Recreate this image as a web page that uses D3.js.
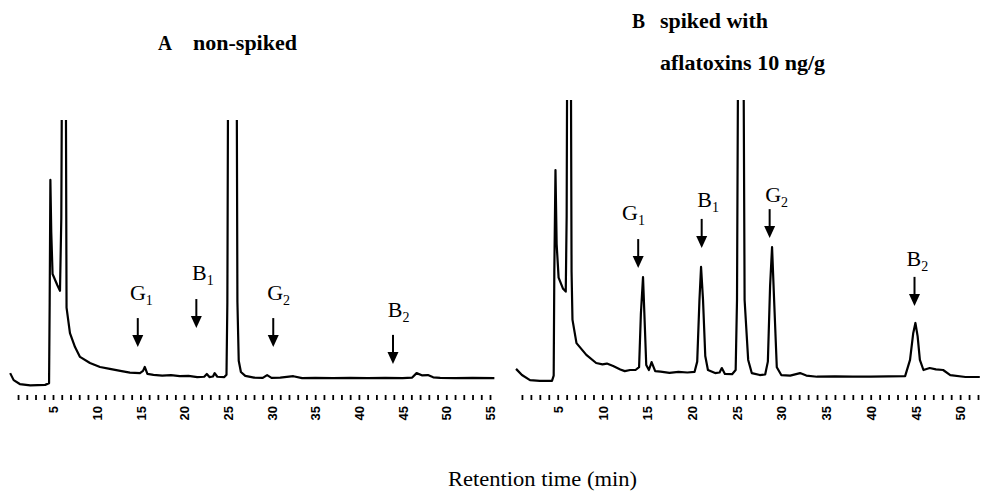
<!DOCTYPE html>
<html>
<head>
<meta charset="utf-8">
<script src="https://cdn.jsdelivr.net/npm/d3@7"></script>
<style>
  html, body { margin: 0; padding: 0; background: #fff; }
  svg { display: block; }
</style>
</head>
<body>
<svg id="chart" width="983" height="493"></svg>
<script>
// ---------------- DATA ----------------
// Panel A (non-spiked): retention time (min) and detector signal (arbitrary units)
const timeA = [0.1,0.5,1.2,2.4,4.1,4.55,4.62,4.7,4.8,4.95,5.5,5.8,5.95,6.05,6.45,6.55,6.94,7.52,8.09,9.23,10.38,11.5,12.7,13.8,14.95,15.3,15.5,15.8,16.5,17.5,18.5,19.5,20.5,21.5,22.3,22.6,22.9,23.3,23.5,23.8,24.6,24.85,24.95,25.05,26.0,26.1,26.25,26.5,27.0,28.0,29.0,29.5,30.0,31.0,32.5,33.5,35,37,39,41,43,45,46.1,46.6,47.2,47.9,48.5,49.3,51,53,55.5];
const signalA = [4.6,2.1,0.7,0.2,0.4,1.0,30,73.6,55,40,36,34,60,130,130,28,18.9,13.9,10.4,8.2,6.8,6.1,5.4,4.8,4.6,5.4,6.8,4.3,4.0,3.7,3.9,3.5,3.6,3.2,3.3,4.3,3.2,3.4,4.6,3.3,3.2,4,30,130,130,30,9,5,3.6,3.0,2.9,3.9,2.9,3.0,3.5,2.8,2.9,2.8,2.9,2.8,2.9,2.8,3.0,4.6,3.8,3.9,3.1,2.9,2.8,2.9,2.8];

// Panel B (spiked with aflatoxins 10 ng/g)
const timeB = [0.34,1.0,1.9,3.0,4.36,4.55,4.62,4.75,4.88,5.1,5.6,5.9,6.0,6.08,6.45,6.55,6.65,7.1,8.2,9.3,10.0,10.5,11.2,12.0,12.5,13.1,13.7,14.1,14.3,14.54,14.75,14.9,15.2,15.5,15.9,16.5,17.5,18.5,19.5,20.3,20.6,20.85,21.03,21.25,21.5,21.8,22.6,23.1,23.35,23.7,24.5,24.9,25.05,25.2,25.75,25.9,26.3,26.7,27.6,28.2,28.5,28.75,28.97,29.2,29.5,30.0,31,32.1,32.8,34,36,38,40,42,43.85,44.4,44.75,45.0,45.25,45.5,45.9,46.6,47.3,48.1,48.9,50.6,52.2];
const signalB = [5.4,3.2,1.4,1.1,1.1,3,40,76.4,50,38,34,33,60,140,140,40,23,14.6,10.4,7.5,7.0,7.3,6.4,5.2,4.6,5.0,5.0,6,25,38.2,20,6.8,5,7.8,4.6,4.4,4.0,4.3,4.1,4.3,8,30,41.8,30,10,5,3.9,4.1,5.7,3.6,3.5,5,30,140,140,30,8.6,3.9,3.2,3.4,8,35,48.9,30,6,3.2,3.0,3.9,3.0,2.6,2.7,2.6,2.6,2.7,2.8,8.6,18,21.8,17,8.6,5,5.7,5.2,5,3.2,2.5,2.5];

// Axis ticks (minutes)
const ticksA = d3.range(1, 56);
const ticksB = d3.range(1, 53);
const labelTicks = [5,10,15,20,25,30,35,40,45,50,55];

// Peak annotations
const peakNames = ["G", "B", "G", "B"];
const peakSubs = ["1", "1", "2", "2"];
const arrowTimeA = [14.7, 21.4, 30.2, 43.9];
const arrowTipA = [13.9, 20.7, 13.9, 7.9];
const labelTimeA = [13.8, 20.9, 29.5, 43.3];
const labelSignalA = [30.7, 37.9, 30.7, 24.6];
const arrowTimeB = [14.0, 21.1, 28.7, 44.9];
const arrowTipB = [41.4, 48.6, 52.1, 27.9];
const labelTimeB = [12.2, 20.6, 28.2, 44.0];
const labelSignalB = [58.6, 63.2, 65.0, 42.1];

// ---------------- DRAW ----------------
const svg = d3.select("#chart");
const serif = "'Liberation Serif', 'Times New Roman', serif";

function panel(cfg) {
  const x = d3.scaleLinear().domain(cfg.xDomain).range(cfg.xRange);
  const y = d3.scaleLinear().domain([0, 100]).range(cfg.yRange);
  const g = svg.append("g");
  const clipId = "clip" + cfg.id;
  svg.append("clipPath").attr("id", clipId)
    .append("rect")
    .attr("x", cfg.xRange[0] - 20).attr("y", cfg.clipTop)
    .attr("width", cfg.xRange[1] - cfg.xRange[0] + 40)
    .attr("height", 400 - cfg.clipTop);

  const pts = cfg.time.map((t, i) => [t, cfg.signal[i]]);
  g.append("path")
    .datum(pts)
    .attr("clip-path", `url(#${clipId})`)
    .attr("fill", "none")
    .attr("stroke", "#000")
    .attr("stroke-width", 2.2)
    .attr("stroke-linejoin", "round")
    .attr("d", d3.line().x(d => x(d[0])).y(d => y(d[1])));

  // axis
  const axis = d3.axisBottom(x)
    .tickValues(cfg.ticks)
    .tickSize(5)
    .tickFormat(d => labelTicks.includes(d) ? d : "");
  const ag = g.append("g").attr("transform", "translate(0,395)").call(axis);
  ag.select(".domain").remove();
  ag.selectAll(".tick line").attr("stroke", "#000").attr("stroke-width", 1.8);
  ag.selectAll(".tick text")
    .attr("transform", "rotate(-90)")
    .attr("text-anchor", "end")
    .attr("x", -11)
    .attr("y", 0)
    .attr("dy", "0.36em")
    .attr("font-family", "'Liberation Sans', Arial, sans-serif")
    .attr("font-weight", "bold")
    .attr("font-size", 13)
    .attr("fill", "#000");

  // annotations
  cfg.arrowTime.forEach((t, i) => {
    const ax = x(t);
    const tip = y(cfg.arrowTip[i]);
    const top = tip - 29;
    g.append("line")
      .attr("x1", ax).attr("x2", ax)
      .attr("y1", top).attr("y2", tip - 10)
      .attr("stroke", "#000").attr("stroke-width", 2);
    g.append("path")
      .attr("d", `M${ax - 5.5},${tip - 12} L${ax + 5.5},${tip - 12} L${ax},${tip} Z`)
      .attr("fill", "#000");
    const txt = g.append("text")
      .attr("x", x(cfg.labelTime[i]))
      .attr("y", y(cfg.labelSignal[i]))
      .attr("font-family", serif)
      .attr("font-size", 22)
      .attr("fill", "#000");
    txt.append("tspan").text(peakNames[i]);
    txt.append("tspan").attr("dy", 5).attr("font-size", 14).text(peakSubs[i]);
  });
}

panel({
  id: "A", time: timeA, signal: signalA,
  xDomain: [0, 55], xRange: [9.3, 490],
  yRange: [386, 106], clipTop: 120, ticks: ticksA,
  arrowTime: arrowTimeA, arrowTip: arrowTipA,
  labelTime: labelTimeA, labelSignal: labelSignalA
});
panel({
  id: "B", time: timeB, signal: signalB,
  xDomain: [0, 52], xRange: [513, 978],
  yRange: [384, 104], clipTop: 100, ticks: ticksB,
  arrowTime: arrowTimeB, arrowTip: arrowTipB,
  labelTime: labelTimeB, labelSignal: labelSignalB
});

// Titles
function title(xp, yp, str, len) {
  svg.append("text").attr("x", xp).attr("y", yp)
    .attr("font-family", serif).attr("font-weight", "bold")
    .attr("font-size", 20).attr("fill", "#000")
    .attr("textLength", len).attr("lengthAdjust", "spacingAndGlyphs")
    .text(str);
}
title(158, 50, "A", 14);
title(193, 50, "non-spiked", 104);
title(632, 28, "B", 13);
title(660, 28, "spiked with", 108);
title(660, 70, "aflatoxins 10 ng/g", 165);

svg.append("text")
  .attr("x", 448).attr("y", 486)
  .attr("font-family", serif).attr("font-size", 20).attr("fill", "#000")
  .attr("textLength", 189).attr("lengthAdjust", "spacingAndGlyphs")
  .text("Retention time (min)");
</script>
</body>
</html>
